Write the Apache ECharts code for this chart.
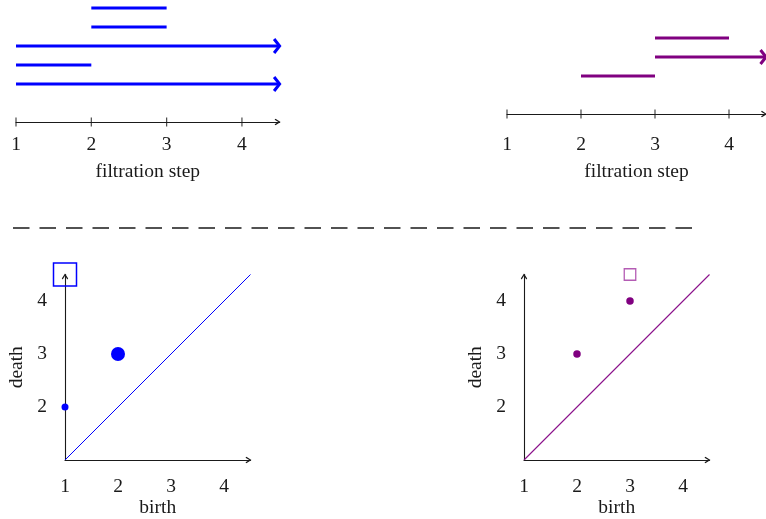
<!DOCTYPE html>
<html>
<head>
<meta charset="utf-8">
<script src="https://cdn.jsdelivr.net/npm/echarts@6/dist/echarts.min.js"></script>
<style>
  html, body { margin: 0; padding: 0; background: #fff; }
  #chart { width: 766px; height: 519px; }
</style>
</head>
<body>
<div id="chart"></div>
<script>
// --- data ---
const tickValues = [1, 2, 3, 4];
const deathTicks = [2, 3, 4];
const X_MAX = 4.5; // arrow end = "infinity"

// barcodes: [birth, death, row]
const barsBlue = [[2, 3, 6], [2, 3, 5], [1, Infinity, 4], [1, 2, 3], [1, Infinity, 2]];
const barsPurple = [[3, 4, 4], [3, Infinity, 3], [2, 3, 2]];

// persistence diagram points: [birth, death, multiplicity]
const pointsBlue = [[1, 2, 1], [2, 3, 2]];
const pointsPurple = [[2, 3, 1], [3, 4, 1]];
// infinite classes: [birth, multiplicity]
const infBlue = [[1, 2]];
const infPurple = [[3, 1]];

const diagonal = [[1, 1], [X_MAX, X_MAX]];

const BLUE = "#0000ff";
const PURPLE = "#800080";
const INK = "#1a1a1a";
const FONT = "Liberation Serif";

// open chevron arrow for axis ends
const chevron = "path://M0,8 L5,0 L10,8 L8.6,9.4 L5,3.4 L1.4,9.4 Z";

const chart = echarts.init(document.getElementById("chart"));

function barRender(color) {
  return function (params, api) {
    const row = api.value(2);
    const p0 = api.coord([api.value(0), row]);
    const p1 = api.coord([api.value(1), row]);
    const kids = [{
      type: "line",
      shape: { x1: p0[0], y1: p0[1], x2: p1[0] - (api.value(3) ? 1 : 0), y2: p1[1] },
      style: { stroke: color, lineWidth: 3.2, lineCap: "butt" }
    }];
    if (api.value(3)) {
      kids.push({
        type: "polyline",
        shape: { points: [[p1[0] - 5.5, p1[1] - 7], [p1[0], p1[1]], [p1[0] - 5.5, p1[1] + 7]] },
        style: { stroke: color, fill: null, lineWidth: 3, lineJoin: "miter" }
      });
    }
    return { type: "group", children: kids };
  };
}

const toBars = (bars) => bars.map(b => [b[0], isFinite(b[1]) ? b[1] : X_MAX, b[2], isFinite(b[1]) ? 0 : 1]);

const labelStyle = { color: INK, fontFamily: FONT, fontSize: 19.5 };
const arrowLine = { onZero: false, lineStyle: { color: INK, width: 1.1 }, symbol: ["none", chevron], symbolSize: [10, 6], symbolOffset: [0, -2] };

function barcodeX(gridIndex, margin, gap) {
  return {
    gridIndex, type: "value", min: 1, max: X_MAX, position: "bottom",
    axisLine: arrowLine,
    axisTick: { show: false },
    splitLine: { show: false },
    axisLabel: Object.assign({ margin, customValues: tickValues }, labelStyle),
    name: "filtration step", nameLocation: "middle", nameGap: gap,
    nameTextStyle: labelStyle
  };
}

function diagramX(gridIndex) {
  return {
    gridIndex, type: "value", min: 1, max: X_MAX,
    axisLine: arrowLine,
    axisTick: { show: false },
    splitLine: { show: false },
    axisLabel: Object.assign({ margin: 17, customValues: tickValues }, labelStyle),
    name: "birth", nameLocation: "middle", nameGap: 38, nameTextStyle: labelStyle
  };
}

function diagramY(gridIndex) {
  return {
    gridIndex, type: "value", min: 1, max: X_MAX,
    axisLine: arrowLine,
    axisTick: { show: false },
    splitLine: { show: false },
    axisLabel: Object.assign({ margin: 18, customValues: deathTicks }, labelStyle),
    name: "death", nameLocation: "middle", nameGap: 38, nameTextStyle: labelStyle
  };
}

const hiddenY = (gridIndex) => ({ gridIndex, type: "value", min: 0, max: 6, show: false });

chart.setOption({
  animation: false,
  grid: [
    { left: 16, top: 8, width: 263.6, height: 114 },
    { left: 507, top: 0, width: 263.6, height: 114 },
    { left: 65, top: 274.5, width: 185.5, height: 185.5 },
    { left: 524, top: 274.5, width: 185.5, height: 185.5 }
  ],
  xAxis: [barcodeX(0, 13, 40), barcodeX(1, 21, 48), diagramX(2), diagramX(3)],
  yAxis: [hiddenY(0), hiddenY(1), diagramY(2), diagramY(3)],
  graphic: [{
    type: "line",
    shape: { x1: 13, y1: 228, x2: 695, y2: 228 },
    style: { stroke: INK, lineWidth: 1.3, lineDash: [16.5, 10] }
  }],
  series: [
    // barcodes
    { type: "custom", xAxisIndex: 0, yAxisIndex: 0, data: toBars(barsBlue), renderItem: barRender(BLUE), clip: false, encode: { x: [0, 1], y: 2 } },
    { type: "custom", xAxisIndex: 1, yAxisIndex: 1, data: toBars(barsPurple), renderItem: barRender(PURPLE), clip: false, encode: { x: [0, 1], y: 2 } },
    // barcode axis ticks (crossing the line)
    { type: "scatter", xAxisIndex: 0, yAxisIndex: 0, data: tickValues.map(t => [t, 0]), symbol: "rect", symbolSize: [1.2, 9], itemStyle: { color: INK }, clip: false, silent: true },
    { type: "scatter", xAxisIndex: 1, yAxisIndex: 1, data: tickValues.map(t => [t, 0]), symbol: "rect", symbolSize: [1.2, 9], itemStyle: { color: INK }, clip: false, silent: true },
    // diagonals
    { type: "line", xAxisIndex: 2, yAxisIndex: 2, data: diagonal, showSymbol: false, lineStyle: { color: BLUE, width: 1 } },
    { type: "line", xAxisIndex: 3, yAxisIndex: 3, data: diagonal, showSymbol: false, lineStyle: { color: "#8a108a", width: 1.1 } },
    // finite points
    { type: "scatter", xAxisIndex: 2, yAxisIndex: 2, data: pointsBlue, symbolSize: v => 7 * v[2], itemStyle: { color: BLUE, opacity: 1 }, clip: false },
    { type: "scatter", xAxisIndex: 3, yAxisIndex: 3, data: pointsPurple, symbolSize: v => 7.5 * v[2], itemStyle: { color: PURPLE, opacity: 1 }, clip: false },
    // infinite classes drawn as squares at the top
    { type: "scatter", xAxisIndex: 2, yAxisIndex: 2, data: infBlue.map(p => [p[0], X_MAX, p[1]]), symbol: "rect", symbolSize: v => 11.5 * v[2], itemStyle: { color: "rgba(0,0,0,0)", borderColor: BLUE, borderWidth: 1.5, opacity: 1 }, clip: false },
    { type: "scatter", xAxisIndex: 3, yAxisIndex: 3, data: infPurple.map(p => [p[0], X_MAX, p[1]]), symbol: "rect", symbolSize: v => 11.5 * v[2], itemStyle: { color: "rgba(0,0,0,0)", borderColor: "#b45cb4", borderWidth: 1.3, opacity: 1 }, clip: false }
  ]
});
</script>
</body>
</html>
